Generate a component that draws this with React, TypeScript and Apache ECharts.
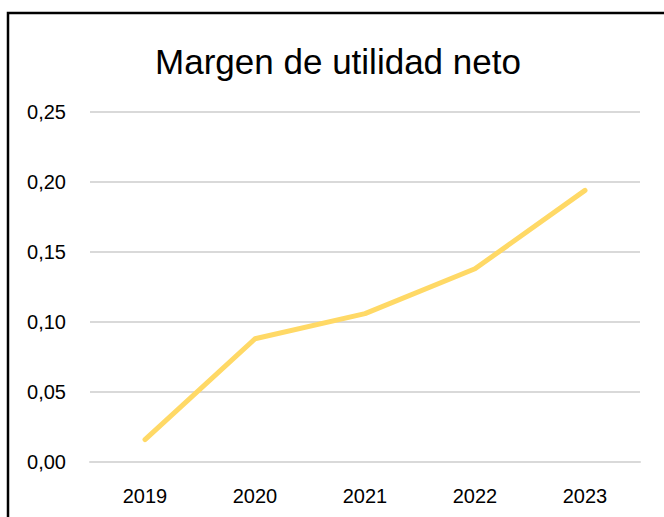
import React, { useEffect, useRef } from "react";
import * as echarts from "echarts";

const years = ["2019", "2020", "2021", "2022", "2023"];
const margen = [0.016, 0.088, 0.106, 0.138, 0.194];
const titleText = "Margen de utilidad neto";

export default function App() {
  const ref = useRef<HTMLDivElement>(null);
  useEffect(() => {
    const chart = echarts.init(ref.current!, null, { renderer: "svg" });
    const font = "'Liberation Sans', Arial, sans-serif";
    chart.setOption({
      animation: false,
      backgroundColor: "#ffffff",
      title: {
        text: titleText,
        left: 333,
        textAlign: "center",
        top: 39,
        textStyle: { fontFamily: font, fontSize: 35, fontWeight: "normal", color: "#000000" },
      },
      graphic: [
        {
          type: "rect",
          shape: { x: 8, y: 13, width: 680, height: 540 },
          style: { fill: "none", stroke: "#000000", lineWidth: 2.5 },
          silent: true,
        },
      ],
      grid: { left: 90, right: 24, top: 112, bottom: 55 },
      xAxis: {
        type: "category",
        data: years,
        boundaryGap: true,
        axisLine: { lineStyle: { color: "#d9d9d9", width: 2 } },
        axisTick: { show: false },
        axisLabel: { fontFamily: font, fontSize: 20, color: "#000000", margin: 24 },
      },
      yAxis: {
        type: "value",
        min: 0,
        max: 0.25,
        interval: 0.05,
        axisLine: { show: false },
        axisTick: { show: false },
        splitLine: { lineStyle: { color: "#d9d9d9", width: 2 } },
        axisLabel: {
          fontFamily: font,
          fontSize: 20,
          color: "#000000",
          margin: 24,
          formatter: (v: number) => v.toFixed(2).replace(".", ","),
        },
      },
      series: [
        {
          type: "line",
          data: margen,
          symbol: "none",
          lineStyle: { color: "#ffd966", width: 5, cap: "round", join: "round" },
        },
      ],
    });
    return () => chart.dispose();
  }, []);
  return (
    <div
      ref={ref}
      style={{ position: "fixed", left: 0, top: 0, width: 664, height: 517 }}
    />
  );
}
